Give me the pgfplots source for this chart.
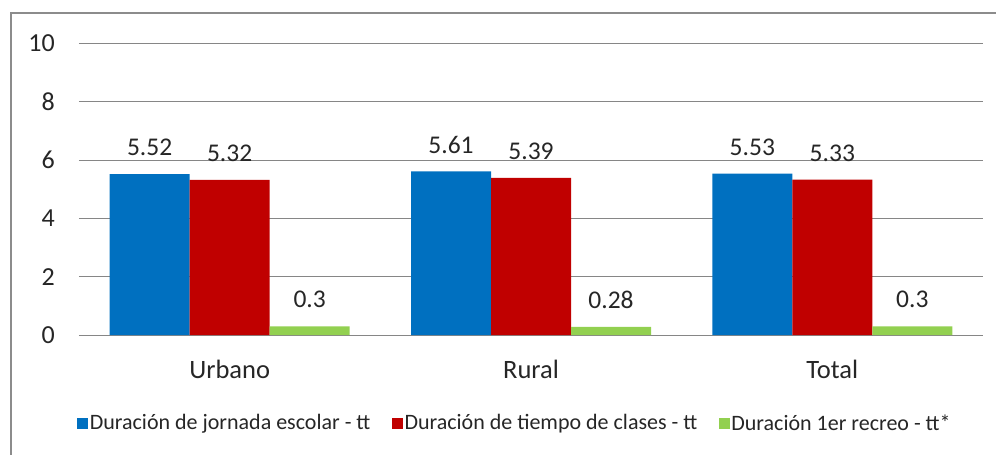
\documentclass[border=0pt]{standalone}
\usepackage{pgfplots}
\pgfplotsset{compat=1.18}
\usepackage{fontspec}
\setmainfont{Carlito}

\definecolor{cblue}{RGB}{0,112,192}
\definecolor{cred}{RGB}{192,0,0}
\definecolor{cgreen}{RGB}{146,208,80}
\definecolor{cgrid}{RGB}{134,134,134}
\definecolor{cframe}{RGB}{140,140,140}
\definecolor{ctext}{RGB}{38,38,38}

\begin{document}
\begin{tikzpicture}
% page size: 996 x 455 (1px = 1pt), plot area lower-left at (0,0)
\useasboundingbox (-79pt,-120pt) rectangle (917pt,335pt);
\draw[cframe, line width=1.3pt] (-68pt,-121pt) -- (-68pt,322pt) -- (918pt,322pt);

\begin{axis}[
    at={(0pt,0pt)}, anchor=south west,
    scale only axis,
    width=904pt,
    height=291.6pt,
    ybar=0pt,
    bar width=80pt,
    xmin=-0.5, xmax=2.5,
    ymin=0, ymax=10,
    xtick={0,1,2},
    xticklabels={Urbano,Rural,Total},
    ytick={0,2,4,6,8,10},
    ymajorgrids,
    grid style={cgrid, line width=1pt},
    axis line style={draw=none},
    major tick length=0pt,
    /pgf/number format/assume math mode=true,
    /pgf/number format/fixed,
    /pgf/number format/precision=2,
    xticklabel style={font=\fontsize{26.5}{26.5}\selectfont, text=ctext, anchor=base, inner sep=0pt, yshift=-43.5pt},
    yticklabel style={font=\fontsize{26}{26}\selectfont, text=ctext, anchor=east, inner sep=0pt, xshift=-24pt},
    nodes near coords,
    nodes near coords style={font=\fontsize{25.5}{25.5}\selectfont, text=ctext, anchor=south, inner sep=0pt, yshift=18pt},
    legend columns=3,
    legend style={
        at={(0.482,-0.302)}, anchor=center,
        draw=none, fill=none,
        font=\fontsize{22}{22}\selectfont,
        text=ctext,
        nodes={inner sep=1.5pt},
        /tikz/every even column/.append style={column sep=20pt},
    },
    legend image code/.code={\fill[#1] (0pt,-5.5pt) rectangle (11pt,5.5pt);},
]
\addplot[fill=cblue, draw=none] coordinates {(0,5.52) (1,5.61) (2,5.53)};
\addplot[fill=cred, draw=none] coordinates {(0,5.32) (1,5.39) (2,5.33)};
\addplot[fill=cgreen, draw=none] coordinates {(0,0.3) (1,0.28) (2,0.3)};
\legend{Duración de jornada escolar - tt, Duración de tiempo de clases - tt, Duración 1er recreo - tt*}
\end{axis}
\end{tikzpicture}
\end{document}
